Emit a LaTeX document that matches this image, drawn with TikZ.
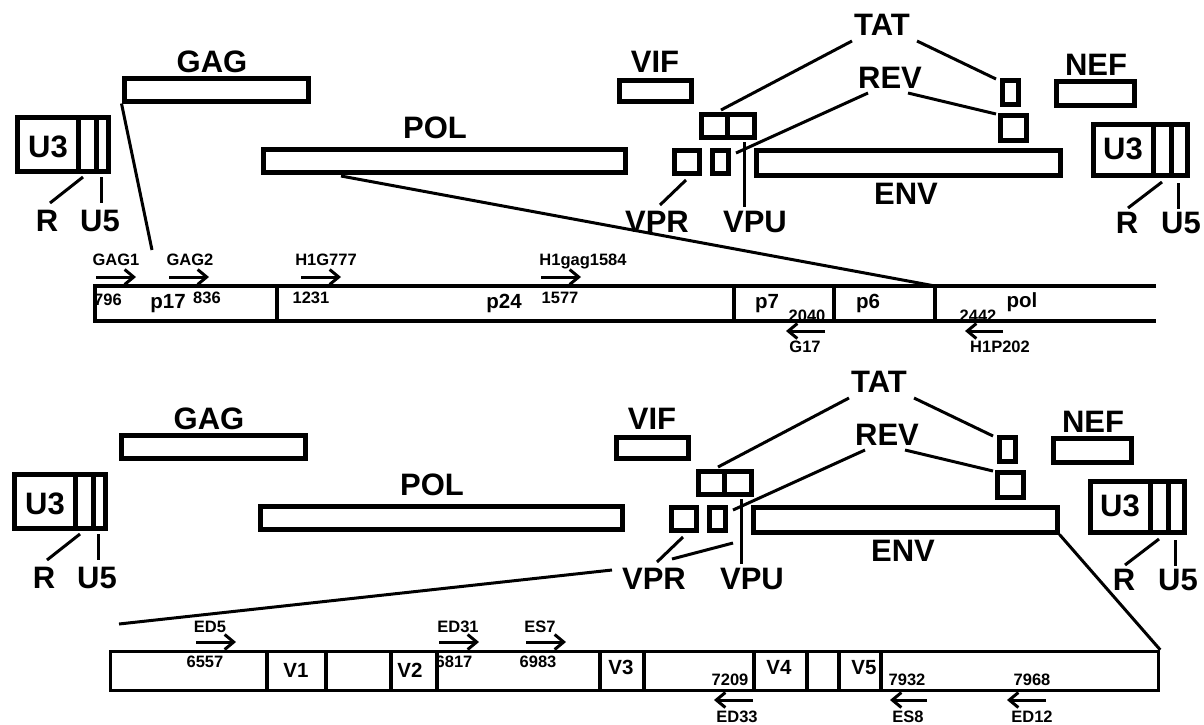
\documentclass[tikz,border=0pt]{standalone}
\usepackage{fontspec}
\setmainfont{Liberation Sans}
\usetikzlibrary{fit,arrows.meta}
\tikzset{
  gene/.style={draw, line width=5pt, inner sep=0pt},
  genediv/.style={line width=5pt},
  big/.style={font=\fontsize{31}{31}\selectfont\bfseries, inner sep=0pt},
  small/.style={font=\fontsize{16.5}{17}\selectfont\bfseries, inner sep=0pt, anchor=base},
  mid/.style={font=\fontsize{20.5}{21}\selectfont\bfseries, inner sep=0pt, anchor=base},
  conn/.style={line width=3pt},
  barline/.style={line width=3.4pt},
  primer/.style={line width=3pt, -{Straight Barb[length=9pt,width=15pt,line width=3pt]}},
}
\newcommand{\hivgenome}{%
  % gene boxes
  \node[gene, fit={(124,78) (308,101)}] (gag) {};
  \node[gene, fit={(263,149) (625,172)}] (pol) {};
  \node[gene, fit={(619,80) (691,101)}] (vif) {};
  \node[gene, fit={(701,114) (754,137)}] (tat1) {};
  \draw[genediv] (727,114) -- (727,137);
  \node[gene, fit={(674,150) (699,173)}] (vpr) {};
  \node[gene, fit={(712,150) (728,173)}] (vpu) {};
  \node[gene, fit={(756,150) (1060,175)}] (env) {};
  \node[gene, fit={(1002,80) (1018,104)}] (tat2) {};
  \node[gene, fit={(1000,115) (1026,140)}] (rev2) {};
  \node[gene, fit={(1056,81) (1134,105)}] (nef) {};
  \node[gene, fit={(17,117) (108,171)}] (ltrl) {};
  \draw[genediv] (78,117) -- (78,171);
  \draw[genediv] (96,117) -- (96,171);
  \node[gene, fit={(1093,124) (1187,175)}] (ltrr) {};
  \draw[genediv] (1153,124) -- (1153,175);
  \draw[genediv] (1171,124) -- (1171,175);
  % labels
  \node[big] (lgag) at (212,62) {GAG};
  \node[big] (lpol) at (435,128) {POL};
  \node[big] (lvif) at (655,62) {VIF};
  \node[big] (ltat) at (882,25) {TAT};
  \node[big] (lrev) at (890,78) {REV};
  \node[big] (lnef) at (1096,65) {NEF};
  \node[big] (lenv) at (906,194) {ENV};
  \node[big] (lvpr) at (657,222) {VPR};
  \node[big] (lvpu) at (755,222) {VPU};
  \node[big] (lu3l) at (48,147) {U3};
  \node[big] (lrl) at (47,221) {R};
  \node[big] (lu5l) at (100,221) {U5};
  \node[big] (lu3r) at (1123,149) {U3};
  \node[big] (lrr) at (1127,223) {R};
  \node[big] (lu5r) at (1181,223) {U5};
  % connector end points
  \coordinate (tatA) at (852,41);  \coordinate (tatB) at (721,110);
  \coordinate (tatC) at (917,41);  \coordinate (tatD) at (996,79);
  \coordinate (revA) at (868,93);  \coordinate (revB) at (736,153);
  \coordinate (revC) at (908,93);  \coordinate (revD) at (996,114);
  \coordinate (vpuA) at (744,142); \coordinate (vpuB) at (744,207);
  \coordinate (vprA) at (686,180); \coordinate (vprB) at (660,205);
  \coordinate (rlA) at (83,177);   \coordinate (rlB) at (50,203);
  \coordinate (u5lA) at (101,177); \coordinate (u5lB) at (101,203);
  \coordinate (rrA) at (1162,182); \coordinate (rrB) at (1128,208);
  \coordinate (u5rA) at (1178,183);\coordinate (u5rB) at (1178,209);
  \draw[conn] (tatA) -- (tatB);
  \draw[conn] (tatC) -- (tatD);
  \draw[conn] (revA) -- (revB);
  \draw[conn] (revC) -- (revD);
  \draw[conn] (vpuA) -- (vpuB);
  \draw[conn] (vprA) -- (vprB);
  \draw[conn] (rlA) -- (rlB);
  \draw[conn] (u5lA) -- (u5lB);
  \draw[conn] (rrA) -- (rrB);
  \draw[conn] (u5rA) -- (u5rB);
}
\begin{document}
\begin{tikzpicture}[x=1pt,y=-1pt]
\useasboundingbox[fill=white] (0,0) rectangle (1204,724);

% ---------- top map ----------
\hivgenome

% top gag/pol bar (open right end)
\draw[barline] (1156,286) -- (95,286) -- (95,321) -- (1156,321);
\foreach \xx in {277,734,834,935} \draw[barline] (\xx,286) -- (\xx,321);
\coordinate (gagend) at (152,250);
\coordinate (polA) at (341,176);
\coordinate (polend) at (935,286);
\draw[conn] (gag.south west) -- (gagend);
\draw[conn] (polA) -- (polend);

% primers, top
\node[small] (gag1) at (116,265) {GAG1};
\node[small] (gag2) at (190,265) {GAG2};
\node[small] (h1g777) at (326,265) {H1G777};
\node[small] (h1gag) at (583,265) {H1gag1584};
\coordinate (a1s) at (96,277);  \coordinate (a1e) at (136,277);
\coordinate (a2s) at (169,277); \coordinate (a2e) at (209,277);
\coordinate (a3s) at (301,277); \coordinate (a3e) at (341,277);
\coordinate (a4s) at (541,277); \coordinate (a4e) at (581,277);
\draw[primer] (a1s) -- (a1e);
\draw[primer] (a2s) -- (a2e);
\draw[primer] (a3s) -- (a3e);
\draw[primer] (a4s) -- (a4e);
\node[small] (n796) at (108,305) {796};
\node[mid] (p17) at (168,308) {p17};
\node[small] (n836) at (207,303) {836};
\node[small] (n1231) at (311,303) {1231};
\node[mid] (p24) at (504,308) {p24};
\node[small] (n1577) at (560,303) {1577};
\node[mid] (p7) at (767,308) {p7};
\node[small] (n2040) at (807,321) {2040};
\node[mid] (p6) at (868,308) {p6};
\node[small] (n2442) at (978,321) {2442};
\node[mid] (polt) at (1022,307) {pol};
\coordinate (g17s) at (825,331);  \coordinate (g17e) at (786,331);
\coordinate (h1ps) at (1003,331); \coordinate (h1pe) at (965,331);
\draw[primer] (g17s) -- (g17e);
\draw[primer] (h1ps) -- (h1pe);
\node[small] (g17) at (805,352) {G17};
\node[small] (h1p) at (1000,352) {H1P202};

% ---------- bottom map ----------
\begin{scope}[shift={(-3,357)}, name prefix=b-]
\hivgenome
\end{scope}

% env bar
\node[gene, line width=3.4pt, fit={(110.5,651.5) (1158.5,690.5)}] (bbar) {};
\foreach \xx in {267,326,391,437,600,644,754,807,839,881} \draw[barline] (\xx,651.5) -- (\xx,690.5);
\coordinate (vA) at (119,624); \coordinate (vB) at (612,570);
\coordinate (vC) at (672,559); \coordinate (vD) at (733,543);
\draw[conn] (vA) -- (vB);
\draw[conn] (vC) -- (vD);
\draw[conn] (b-env.south east) -- (bbar.north east);

\node[small] (ed5) at (210,632) {ED5};
\node[small] (ed31) at (458,632) {ED31};
\node[small] (es7) at (540,632) {ES7};
\coordinate (e1s) at (196,642); \coordinate (e1e) at (236,642);
\coordinate (e2s) at (439,642); \coordinate (e2e) at (479,642);
\coordinate (e3s) at (526,642); \coordinate (e3e) at (566,642);
\draw[primer] (e1s) -- (e1e);
\draw[primer] (e2s) -- (e2e);
\draw[primer] (e3s) -- (e3e);
\node[small] (n6557) at (205,667) {6557};
\node[small] (n6817) at (454,667) {6817};
\node[small] (n6983) at (538,667) {6983};
\node[mid] (v1) at (296,677) {V1};
\node[mid] (v2) at (410,677) {V2};
\node[mid] (v3) at (621,674) {V3};
\node[mid] (v4) at (779,674) {V4};
\node[mid] (v5) at (864,674) {V5};
\node[small] (n7209) at (730,685) {7209};
\node[small] (n7932) at (907,685) {7932};
\node[small] (n7968) at (1032,685) {7968};
\coordinate (r1s) at (753,700);  \coordinate (r1e) at (714,700);
\coordinate (r2s) at (927,700);  \coordinate (r2e) at (890,700);
\coordinate (r3s) at (1046,700); \coordinate (r3e) at (1007,700);
\draw[primer] (r1s) -- (r1e);
\draw[primer] (r2s) -- (r2e);
\draw[primer] (r3s) -- (r3e);
\node[small] (ed33) at (737,722) {ED33};
\node[small] (es8) at (908,722) {ES8};
\node[small] (ed12) at (1032,722) {ED12};
\end{tikzpicture}
\end{document}
